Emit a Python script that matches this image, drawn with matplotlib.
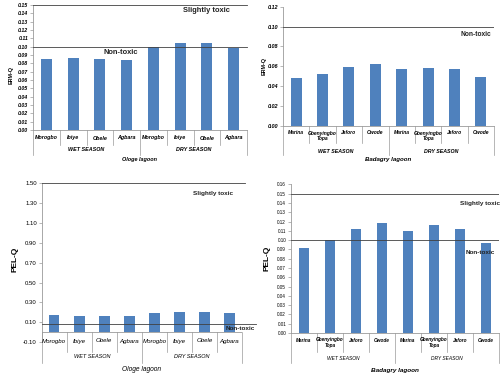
import numpy as np
import matplotlib.pyplot as plt
from matplotlib.transforms import blended_transform_factory

plt.rcParams['font.family'] = ['Liberation Sans', 'DejaVu Sans']

W, H = 504, 378

# data
sites_ologe = ['Morogbo', 'Ibiye', 'Obele', 'Agbara']
sites_badagry = ['Marina', 'Gbenyingbo\nTopa', 'Jaforo', 'Owode']
seasons = ['WET SEASON', 'DRY SEASON']

erm_ologe = [0.085, 0.087, 0.085, 0.084, 0.099, 0.105, 0.105, 0.098]
erm_badagry = [0.048, 0.052, 0.059, 0.062, 0.057, 0.058, 0.057, 0.049]
pel_ologe = [0.171, 0.164, 0.164, 0.164, 0.190, 0.204, 0.204, 0.190]
pel_badagry = [0.092, 0.1005, 0.112, 0.118, 0.110, 0.116, 0.112, 0.097]

BLUE = '#4F81BD'
SEP = '#9a9a9a'
LINE = '#404040'


def fx(px):
    return px / W


def fy(py):
    return 1 - py / H


def px_axes(fig, left, right, top, bottom):
    return fig.add_axes([fx(left), fy(bottom), (right - left) / W, (bottom - top) / H])


def bars(ax, values, ylim, ticks, fmt, tick_font, axis_value=None):
    x = np.arange(len(values))
    ax.bar(x, values, width=0.42, color=BLUE, zorder=2)
    ax.set_xlim(-0.5, len(values) - 0.5)
    ax.set_ylim(*ylim)
    ax.set_xticks([])
    ax.set_yticks(ticks)
    ax.set_yticklabels([fmt % t for t in ticks], **tick_font)
    ax.tick_params(axis='y', length=2, width=0.5, color=SEP, pad=1.5)
    for s in ['top', 'right']:
        ax.spines[s].set_visible(False)
    ax.spines['left'].set_color(SEP)
    ax.spines['left'].set_linewidth(0.6)
    if axis_value is None:
        ax.spines['bottom'].set_color(SEP)
        ax.spines['bottom'].set_linewidth(0.6)
    else:
        ax.spines['bottom'].set_visible(False)
        ax.axhline(axis_value, color=SEP, lw=0.6, zorder=1)
    ax.patch.set_visible(False)


def category_axis(ax, sites, lagoon, rows, cat_font, season_font, lagoon_font):
    tr = blended_transform_factory(ax.transData, ax.figure.transFigure)
    axis_py, cat_top, short_py, season_py, long_py, lagoon_py = rows
    for i, lab in enumerate(sites * 2):
        ax.text(i, fy(cat_top), lab, transform=tr, ha='center', va='top',
                linespacing=1.1, **cat_font)
    for b in range(9):
        end = long_py if b % 4 == 0 else short_py
        ax.plot([b - 0.5, b - 0.5], [fy(axis_py), fy(end)], transform=tr,
                clip_on=False, color=SEP, lw=0.5)
    for s, name in enumerate(seasons):
        ax.text(4 * s + 1.5, fy(season_py), name, transform=tr,
                ha='center', va='center', **season_font)
    ax.text(3.5, fy(lagoon_py), lagoon, transform=tr, ha='center', va='center',
            **lagoon_font)


fig = plt.figure(figsize=(W / 100, H / 100), dpi=100)
bi = dict(fontweight='bold', fontstyle='italic')
ann = dict(fontweight='bold', color='#222222')

# top-left: ERM-Q, Ologe lagoon
ax1 = px_axes(fig, 33, 247, 5, 130)
bars(ax1, erm_ologe, (0, 0.15), np.arange(0, 0.151, 0.01), '%.2f',
     dict(fontsize=3.8, **bi))
for v in [0.15, 0.10]:
    ax1.axhline(v, color=LINE, lw=0.6, zorder=3, clip_on=False)
category_axis(ax1, sites_ologe, 'Ologe lagoon', (130, 135.5, 145, 150, 155, 160),
              dict(fontsize=3.9, **bi), dict(fontsize=3.9, **bi), dict(fontsize=4.0, **bi))
fig.text(fx(11), fy(75), 'ERM-Q', rotation=90, ha='center', va='center',
         fontsize=3.9, fontweight='bold')
fig.text(fx(206), fy(11), 'Slightly toxic', ha='center', va='center', fontsize=5.4, **ann)
fig.text(fx(121), fy(53), 'Non-toxic', ha='center', va='center', fontsize=5.4, **ann)

# top-right: ERM-Q, Badagry lagoon
ax2 = px_axes(fig, 283, 494, 6.7, 125.7)
bars(ax2, erm_badagry, (0, 0.12), np.arange(0, 0.121, 0.02), '%.2f',
     dict(fontsize=4.0, **bi))
ax2.axhline(0.10, color=LINE, lw=0.6, zorder=3)
category_axis(ax2, sites_badagry, 'Badagry lagoon', (125.7, 130.5, 143, 151.7, 155, 159),
              dict(fontsize=3.6, **bi), dict(fontsize=3.8, **bi), dict(fontsize=4.4, **bi))
fig.text(fx(264), fy(66), 'ERM-Q', rotation=90, ha='center', va='center',
         fontsize=3.9, fontweight='bold')
fig.text(fx(476), fy(34), 'Non-toxic', ha='center', va='center', fontsize=4.8, **ann)

# bottom-left: PEL-Q, Ologe lagoon
ax3 = px_axes(fig, 41.7, 242, 183.5, 342.1)
bars(ax3, pel_ologe, (-0.1, 1.5), np.arange(-0.1, 1.51, 0.2), '%.2f',
     dict(fontsize=4.3), axis_value=0)
ax3.axhline(1.5, xmax=1.015, color=LINE, lw=0.6, zorder=3, clip_on=False)
ax3.axhline(0.085, xmax=1.07, color=LINE, lw=0.6, zorder=3, clip_on=False)
category_axis(ax3, sites_ologe, 'Ologe lagoon', (332.2, 338.5, 352, 356.5, 363, 369.5),
              dict(fontsize=4.4, fontstyle='italic'),
              dict(fontsize=4.0, fontstyle='italic'),
              dict(fontsize=4.8, fontstyle='italic'))
fig.text(fx(15), fy(259), 'PEL-Q', rotation=90, ha='center', va='center',
         fontsize=6, fontweight='bold')
fig.text(fx(213), fy(194), 'Slightly toxic', ha='center', va='center', fontsize=4.6, **ann)
fig.text(fx(226), fy(328), 'Non-toxic', ha='left', va='center', fontsize=4.6, **ann)

# bottom-right: PEL-Q, Badagry lagoon
ax4 = px_axes(fig, 291, 499, 184.4, 333)
bars(ax4, pel_badagry, (0, 0.16), np.arange(0, 0.161, 0.01), '%.2f',
     dict(fontsize=3.3))
for v in [0.15, 0.10]:
    ax4.axhline(v, color=LINE, lw=0.6, zorder=3)
category_axis(ax4, sites_badagry, 'Badagry lagoon', (333, 337.5, 352, 358, 363, 370.5),
              dict(fontsize=3.4, **bi), dict(fontsize=3.5, fontstyle='italic'),
              dict(fontsize=4.6, **bi))
fig.text(fx(267), fy(258), 'PEL-Q', rotation=90, ha='center', va='center',
         fontsize=6, fontweight='bold')
fig.text(fx(480), fy(204), 'Slightly toxic', ha='center', va='center', fontsize=4.6, **ann)
fig.text(fx(480), fy(252), 'Non-toxic', ha='center', va='center', fontsize=4.6, **ann)

fig.savefig('out.png', dpi=100)
